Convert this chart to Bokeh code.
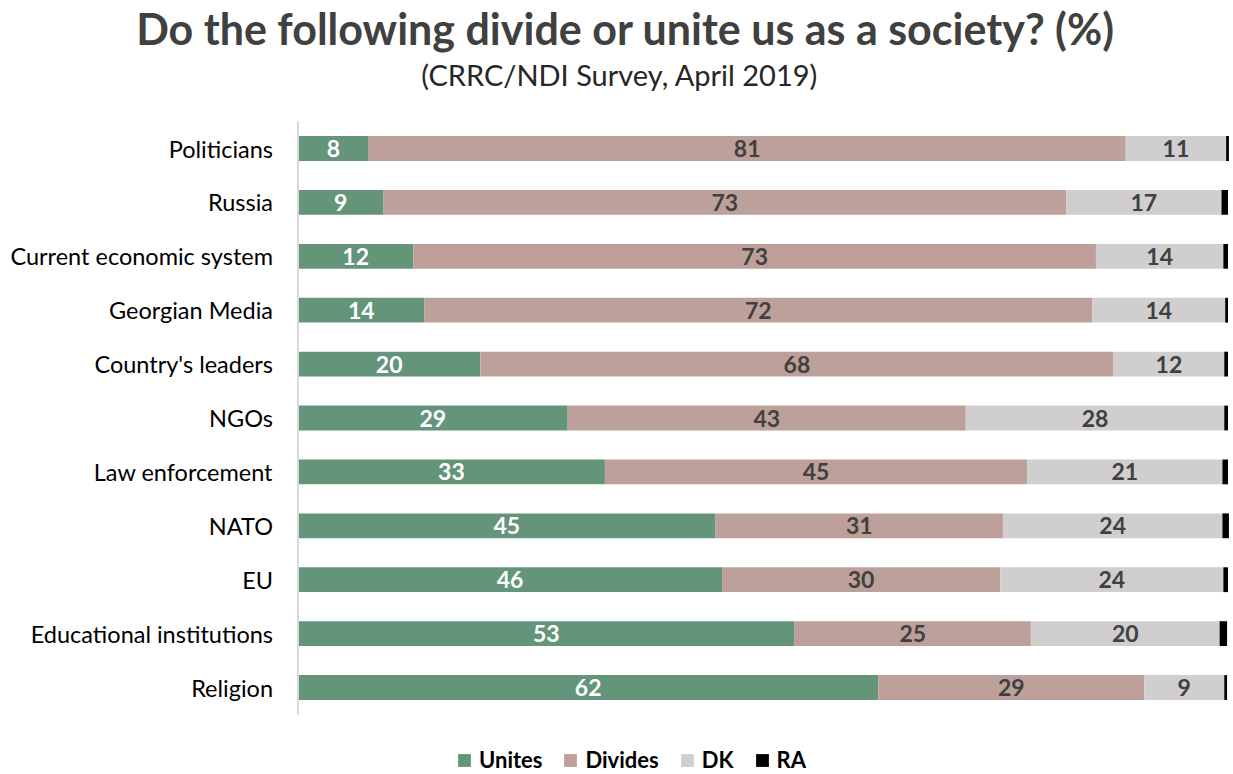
import numpy as np
from bokeh.plotting import figure
from bokeh.models import ColumnDataSource, Range1d, Legend, LegendItem, Label
from bokeh.core.properties import value
from bokeh.embed import file_html
from bokeh.resources import INLINE

categories = ["Politicians", "Russia", "Current economic system", "Georgian Media",
              "Country's leaders", "NGOs", "Law enforcement", "NATO", "EU",
              "Educational institutions", "Religion"]
unites  = [7.6, 9.2, 12.4, 13.6, 19.6, 29.0, 33.0, 44.9, 45.6, 53.4, 62.4]
divides = [81.4, 73.4, 73.4, 71.8, 68.1, 42.8, 45.4, 30.9, 29.9, 25.4, 28.6]
dk      = [10.8, 16.7, 13.7, 14.3, 11.9, 27.8, 21.0, 23.6, 24.0, 20.3, 8.6]
ra      = [0.3, 0.7, 0.5, 0.3, 0.4, 0.4, 0.6, 0.7, 0.5, 0.8, 0.3]

series = ["Unites", "Divides", "DK", "RA"]
colors = ["#64957A", "#BEA09A", "#D0CECE", "#000000"]

TITLE = "Do the following divide or unite us as a society? (%)"
SUBTITLE = "(CRRC/NDI Survey,  April 2019)"
FONT = "Lato"

# page layout (pixels)
W, H = 1233, 774
PLOT_L, PLOT_R = 297.5, 1227.5        # x = 0 .. 100
ROW_TOP, ROW_STEP = 148.0, 53.9        # centre of first row, row pitch

xscale = (PLOT_R - PLOT_L) / 100.0
x_range = Range1d(-PLOT_L / xscale, 100 + (W - PLOT_R) / xscale)
y_range = Range1d((H - ROW_TOP) / ROW_STEP, -ROW_TOP / ROW_STEP)   # inverted: first row on top

idx = list(range(len(categories)))
src = ColumnDataSource(dict(cat=categories, y=idx, Unites=unites, Divides=divides, DK=dk, RA=ra))

p = figure(x_range=x_range, y_range=y_range, x_axis_location=None, y_axis_location=None,
           width=W, height=H, output_backend="svg", toolbar_location=None,
           min_border=0, min_border_left=0, min_border_right=0, min_border_top=0,
           min_border_bottom=0)
p.xgrid.visible = False
p.ygrid.visible = False
p.outline_line_color = None

rs = p.hbar_stack(series, y="y", height=0.46, color=colors, source=src, line_color=None)

# category axis line and labels
p.segment(x0=[0], y0=[-0.5], x1=[0], y1=[len(categories) - 0.5], line_color="#D9D9D9", line_width=2)
p.text(x=0, y="y", text="cat", source=src, x_offset=-25, text_align="right",
       text_baseline="middle", text_font=value(FONT), text_font_size="23.5px", text_color="#000000")

# data labels
u = np.array(unites); d = np.array(divides); k = np.array(dk)
lab_src_u = ColumnDataSource(dict(x=u / 2, y=idx, t=[f"{v:.0f}" for v in u]))
lab_src_d = ColumnDataSource(dict(x=u + d / 2, y=idx, t=[f"{v:.0f}" for v in d]))
lab_src_k = ColumnDataSource(dict(x=u + d + k / 2, y=idx, t=[f"{v:.0f}" for v in k]))
for s, c in [(lab_src_u, "#FFFFFF"), (lab_src_d, "#404040"), (lab_src_k, "#404040")]:
    p.text(x="x", y="y", text="t", source=s, text_align="center", text_baseline="middle",
           text_font=value(FONT), text_font_size="23px", text_font_style="bold", text_color=c)

# titles
p.add_layout(Label(x=625, y=H - 28, x_units="screen", y_units="screen", text=TITLE,
                   text_align="center", text_baseline="middle", text_font=FONT,
                   text_font_size="43px", text_font_style="bold", text_color="#404040"))
p.add_layout(Label(x=623, y=H - 74, x_units="screen", y_units="screen", text=SUBTITLE,
                   text_align="center", text_baseline="middle", text_font=FONT,
                   text_font_size="29px", text_color="#262626"))

legend = Legend(items=[LegendItem(label=s, renderers=[r]) for s, r in zip(series, rs)],
                orientation="horizontal", location=(456, 1),
                label_text_font=FONT, label_text_font_size="22px", label_text_font_style="bold",
                label_text_color="#000000", glyph_width=16, glyph_height=16, spacing=20,
                border_line_color=None, background_fill_alpha=0, margin=0, padding=0,
                label_standoff=7)
p.add_layout(legend)

open("out.html", "w").write(file_html(p, INLINE))
